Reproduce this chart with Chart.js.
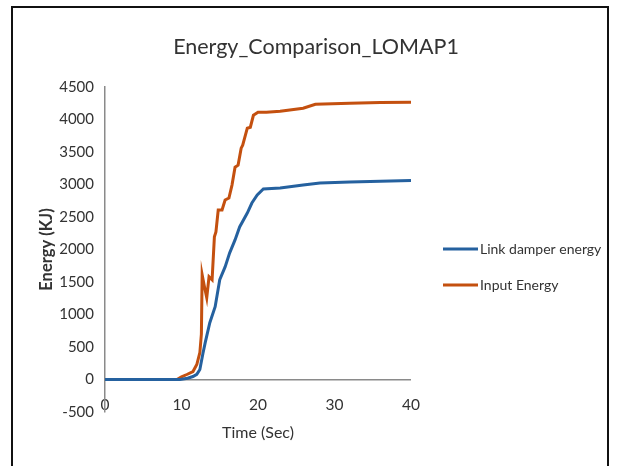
<!DOCTYPE html>
<html>
<head>
<meta charset="utf-8">
<script src="https://cdn.jsdelivr.net/npm/chart.js@4/dist/chart.umd.min.js"></script>
<style>
  html, body { margin: 0; padding: 0; background: #fff; }
  #wrap { width: 621px; height: 466px; position: relative; }
</style>
</head>
<body>
<div id="wrap"><canvas id="myChart" width="621" height="466"></canvas></div>
<script>
// values
const timeLink = [0, 5, 9.8, 10.8, 11.5, 12.0, 12.4, 12.8, 13.1, 13.7, 14.4, 15.0, 15.7, 16.3, 17.0, 17.6, 18.6, 19.2, 19.9, 20.7, 22.9, 25.9, 28.1, 32, 36, 40];
const linkEnergy = [0, 0, 0, 20, 46, 80, 153, 400, 567, 874, 1120, 1534, 1733, 1948, 2148, 2347, 2561, 2715, 2838, 2930, 2945, 2991, 3022, 3040, 3050, 3060];

const timeInput = [0, 5, 9.4, 10.0, 10.7, 11.5, 12.0, 12.4, 12.6, 12.7, 13.0, 13.3, 13.6, 14.0, 14.3, 14.5, 14.8, 15.3, 15.7, 16.2, 16.6, 17.0, 17.4, 17.8, 18.0, 18.6, 19.0, 19.4, 20.0, 21.1, 22.9, 25.9, 27.5, 32, 36, 40];
const inputEnergy = [0, 0, 0, 40, 77, 123, 230, 414, 700, 1611, 1427, 1258, 1580, 1534, 2194, 2270, 2608, 2608, 2761, 2792, 2991, 3267, 3298, 3559, 3605, 3866, 3881, 4065, 4111, 4111, 4127, 4173, 4234, 4250, 4260, 4265];

const seriesNames = ['Link damper energy', 'Input Energy'];
const seriesColors = ['#25619f', '#c4500f'];
const chartTitle = 'Energy_Comparison_LOMAP1';

const FONT = 'Lato, "Open Sans", sans-serif';
const TEXT = '#333333';
const AXIS = '#8a8a8a';

function toPoints(xs, ys) {
  return xs.map((x, i) => ({x: x, y: ys[i]}));
}

// white page, outer frame and the title centred on the frame
const frame = {
  id: 'frame',
  beforeDraw(chart) {
    const c = chart.ctx;
    c.save();
    c.fillStyle = '#fff';
    c.fillRect(0, 0, chart.width, chart.height);
    c.strokeStyle = '#111';
    c.lineWidth = 2;
    c.strokeRect(12, 7, 596, 480);
    c.fillStyle = TEXT;
    c.font = '21.5px ' + FONT;
    c.textAlign = 'center';
    c.textBaseline = 'middle';
    c.fillText(chartTitle, 316, 47);
    c.restore();
  }
};

// Excel-like legend on the right
const sideLegend = {
  id: 'sideLegend',
  afterDraw(chart) {
    const c = chart.ctx;
    const x0 = chart.chartArea.right + 32;
    c.save();
    c.font = '14px ' + FONT;
    c.textBaseline = 'middle';
    chart.data.datasets.forEach((ds, i) => {
      const y = 249 + i * 36;
      c.strokeStyle = ds.borderColor;
      c.lineWidth = 3;
      c.beginPath();
      c.moveTo(x0, y);
      c.lineTo(x0 + 35, y);
      c.stroke();
      c.fillStyle = TEXT;
      c.fillText(ds.label, x0 + 37, y);
    });
    c.restore();
  }
};

new Chart(document.getElementById('myChart').getContext('2d'), {
  type: 'line',
  data: {
    datasets: [
      {
        label: seriesNames[0],
        data: toPoints(timeLink, linkEnergy),
        borderColor: seriesColors[0],
        backgroundColor: seriesColors[0],
        borderWidth: 3,
        pointRadius: 0,
        tension: 0
      },
      {
        label: seriesNames[1],
        data: toPoints(timeInput, inputEnergy),
        borderColor: seriesColors[1],
        backgroundColor: seriesColors[1],
        borderWidth: 3,
        pointRadius: 0,
        tension: 0
      }
    ]
  },
  options: {
    responsive: false,
    animation: false,
    layout: {padding: {left: 12, right: 210, top: 87, bottom: 24}},
    plugins: {
      legend: {display: false},
      tooltip: {enabled: false},
      title: {display: false}
    },
    scales: {
      x: {
        type: 'linear',
        min: 0,
        max: 40,
        ticks: {stepSize: 10, color: TEXT, font: {family: FONT, size: 15.5}, padding: -2, mirror: true, maxRotation: 0},
        grid: {display: false, drawTicks: false},
        border: {display: false},
        title: {display: true, text: 'Time (Sec)', color: TEXT, font: {family: FONT, size: 16}, padding: {top: 0, bottom: 0}},
        afterFit(scale) { scale.height = 30; }
      },
      y: {
        min: -500,
        max: 4500,
        ticks: {
          stepSize: 500,
          color: TEXT,
          font: {family: FONT, size: 15},
          padding: 11,
          callback: (v) => String(v)
        },
        grid: {
          drawTicks: false,
          color: (ctx) => (ctx.tick && ctx.tick.value === 0 ? AXIS : 'rgba(0,0,0,0)'),
          lineWidth: 1.5
        },
        border: {display: true, color: AXIS, width: 1.5},
        title: {display: true, text: 'Energy (KJ)', color: TEXT, font: {family: FONT, size: 16.5, weight: 'bold'}, padding: {top: 25, bottom: 0}},
        afterFit(scale) { scale.width = 93; }
      }
    }
  },
  plugins: [frame, sideLegend]
});
</script>
</body>
</html>
